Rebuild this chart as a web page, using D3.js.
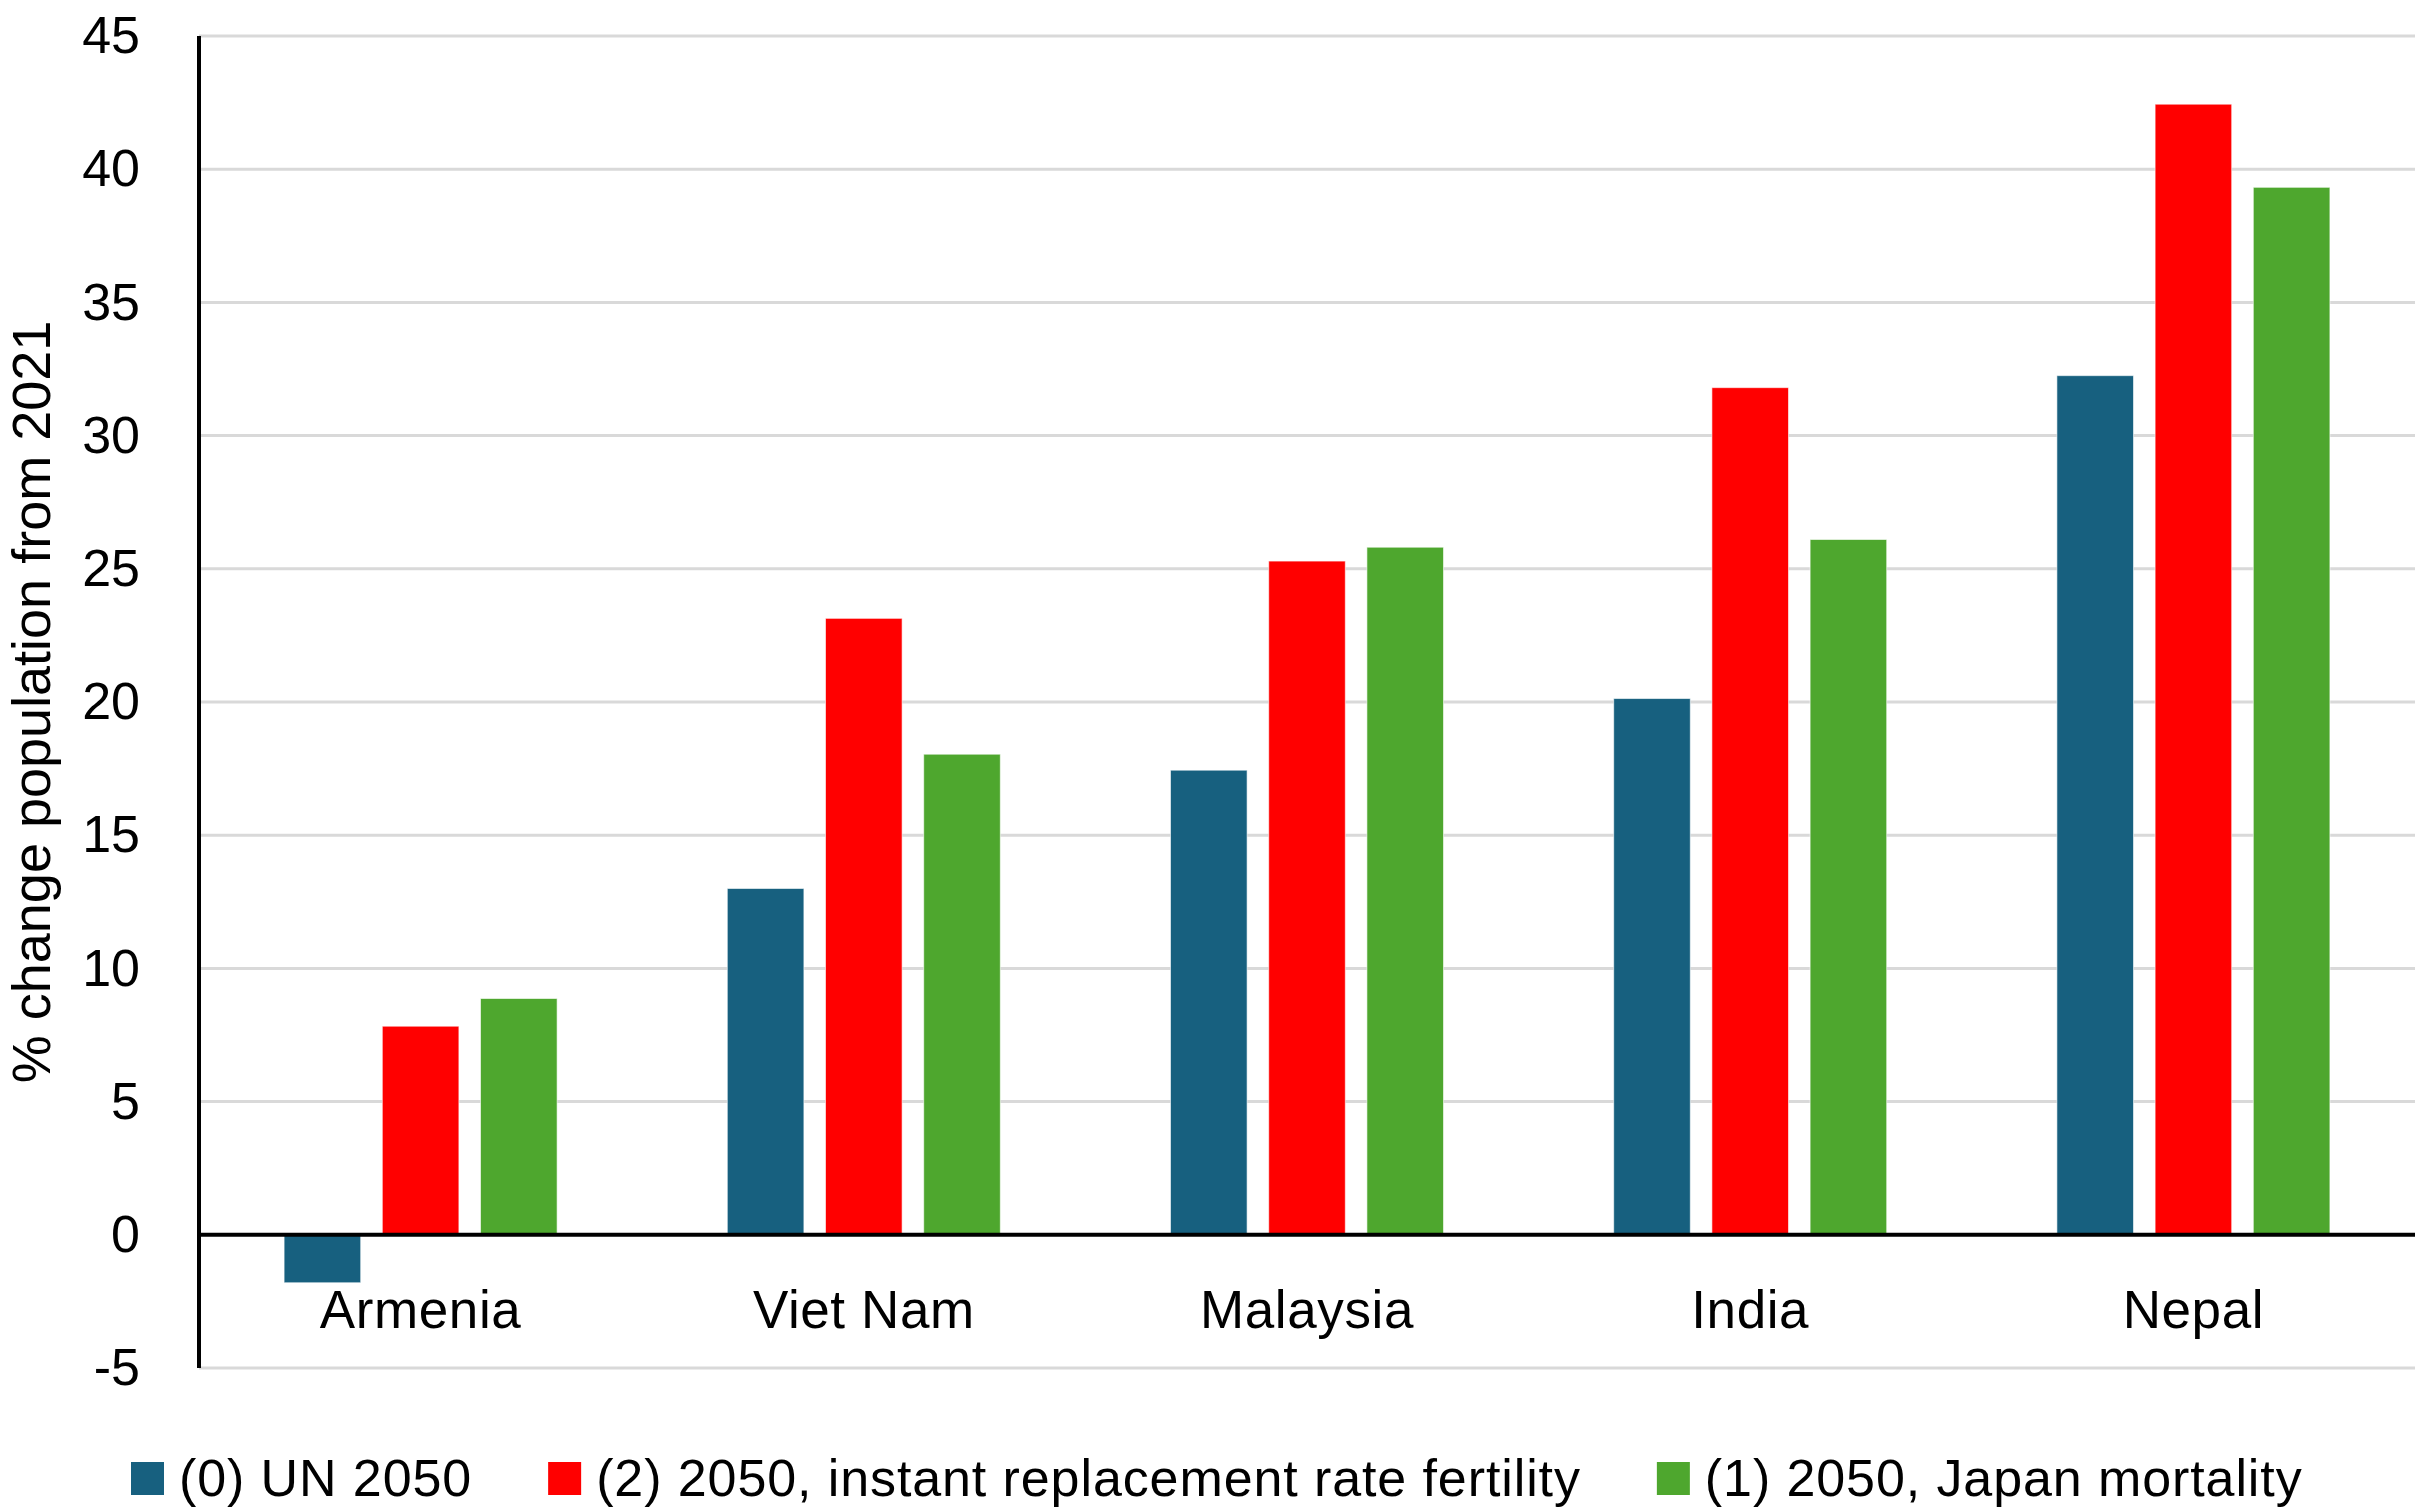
<!DOCTYPE html>
<html>
<head>
<meta charset="utf-8">
<script src="https://cdn.jsdelivr.net/npm/d3@7"></script>
<style>
  body { margin: 0; background: #fff; }
  svg { display: block; font-family: "Liberation Sans", Arial, sans-serif; }
</style>
</head>
<body>
<svg width="2420" height="1507"></svg>
<script>
const categories = ["Armenia", "Viet Nam", "Malaysia", "India", "Nepal"];
const seriesNames = ["(0) UN 2050", "(2) 2050, instant replacement rate fertility", "(1) 2050, Japan mortality"];
const seriesColors = ["#17607f", "#ff0000", "#4ea72e"];
const un2050 = [-1.8, 13.0, 17.44, 20.13, 32.25];
const replacement = [7.83, 23.14, 25.29, 31.8, 42.44];
const japanMort = [8.87, 18.04, 25.81, 26.1, 39.32];
const yTicks = [-5, 0, 5, 10, 15, 20, 25, 30, 35, 40, 45];
const yTitle = "% change population from 2021";

const seriesValues = [un2050, replacement, japanMort];

const svg = d3.select("svg");
const plotLeft = 199, plotRight = 2415, plotTop = 36, plotBottom = 1368;

const y = d3.scaleLinear().domain([-5, 45]).range([plotBottom, plotTop]);

const x0 = d3.scaleBand()
    .domain(categories)
    .range([plotLeft, plotRight])
    .paddingInner(0.384)
    .paddingOuter(0.192);

const x1 = d3.scaleBand()
    .domain(d3.range(seriesNames.length))
    .range([0, x0.bandwidth()])
    .paddingInner(0.22);

// gridlines
svg.append("g")
    .selectAll("line")
    .data(yTicks.filter(d => d !== 0))
    .join("line")
    .attr("x1", plotLeft)
    .attr("x2", plotRight)
    .attr("y1", d => y(d))
    .attr("y2", d => y(d))
    .attr("stroke", "#d9d9d9")
    .attr("stroke-width", 3);

// bars
const groups = svg.append("g")
    .selectAll("g")
    .data(categories)
    .join("g")
    .attr("transform", d => `translate(${x0(d)},0)`);

groups.selectAll("rect")
    .data((c, ci) => seriesValues.map((vals, si) => ({ si, v: vals[ci] })))
    .join("rect")
    .attr("x", d => x1(d.si))
    .attr("width", x1.bandwidth())
    .attr("y", d => y(Math.max(0, d.v)))
    .attr("height", d => Math.abs(y(d.v) - y(0)))
    .attr("fill", d => seriesColors[d.si])
    .attr("stroke", "#ffffff")
    .attr("stroke-opacity", 0.6)
    .attr("stroke-width", 1);

// y axis
const yAxis = d3.axisLeft(y)
    .tickValues(yTicks)
    .tickFormat(d => String(d))
    .tickSize(0)
    .tickPadding(59);
const ya = svg.append("g")
    .attr("transform", `translate(${plotLeft},0)`)
    .call(yAxis);
ya.select(".domain").remove();
ya.selectAll("text")
    .attr("font-size", 52)
    .attr("font-family", "Liberation Sans, Arial, sans-serif")
    .attr("fill", "#000");

svg.append("line")
    .attr("x1", plotLeft).attr("x2", plotLeft)
    .attr("y1", y(45)).attr("y2", y(-5))
    .attr("stroke", "#000")
    .attr("stroke-width", 4);

// zero line
svg.append("line")
    .attr("x1", plotLeft).attr("x2", plotRight)
    .attr("y1", y(0)).attr("y2", y(0))
    .attr("stroke", "#000")
    .attr("stroke-width", 4);

// category labels
const xa = svg.append("g")
    .attr("transform", `translate(0,${y(0)})`)
    .call(d3.axisBottom(x0).tickSize(0).tickPadding(0));
xa.select(".domain").remove();
xa.selectAll("text")
    .attr("dy", null)
    .attr("y", 93)
    .attr("font-size", 53)
    .attr("letter-spacing", 0.6)
    .attr("font-family", "Liberation Sans, Arial, sans-serif")
    .attr("fill", "#000");

// y title
svg.append("text")
    .attr("transform", `translate(50,${(y(45) + y(-5)) / 2}) rotate(-90)`)
    .attr("text-anchor", "middle")
    .attr("font-size", 54)
    .text(yTitle);

// legend
const legend = svg.append("g").attr("transform", "translate(131,0)");
const items = legend.selectAll("g")
    .data(seriesNames)
    .join("g");
items.append("rect")
    .attr("y", 1462)
    .attr("width", 33)
    .attr("height", 33)
    .attr("fill", (d, i) => seriesColors[i]);
items.append("text")
    .attr("x", 48)
    .attr("y", 1496)
    .attr("font-size", 52)
    .attr("letter-spacing", 0.9)
    .text(d => d);

let lx = 0;
items.each(function () {
    const w = d3.select(this).select("text").node().getComputedTextLength();
    d3.select(this).attr("transform", `translate(${lx},0)`);
    lx += 48 + w + 76;
});
</script>
</body>
</html>
